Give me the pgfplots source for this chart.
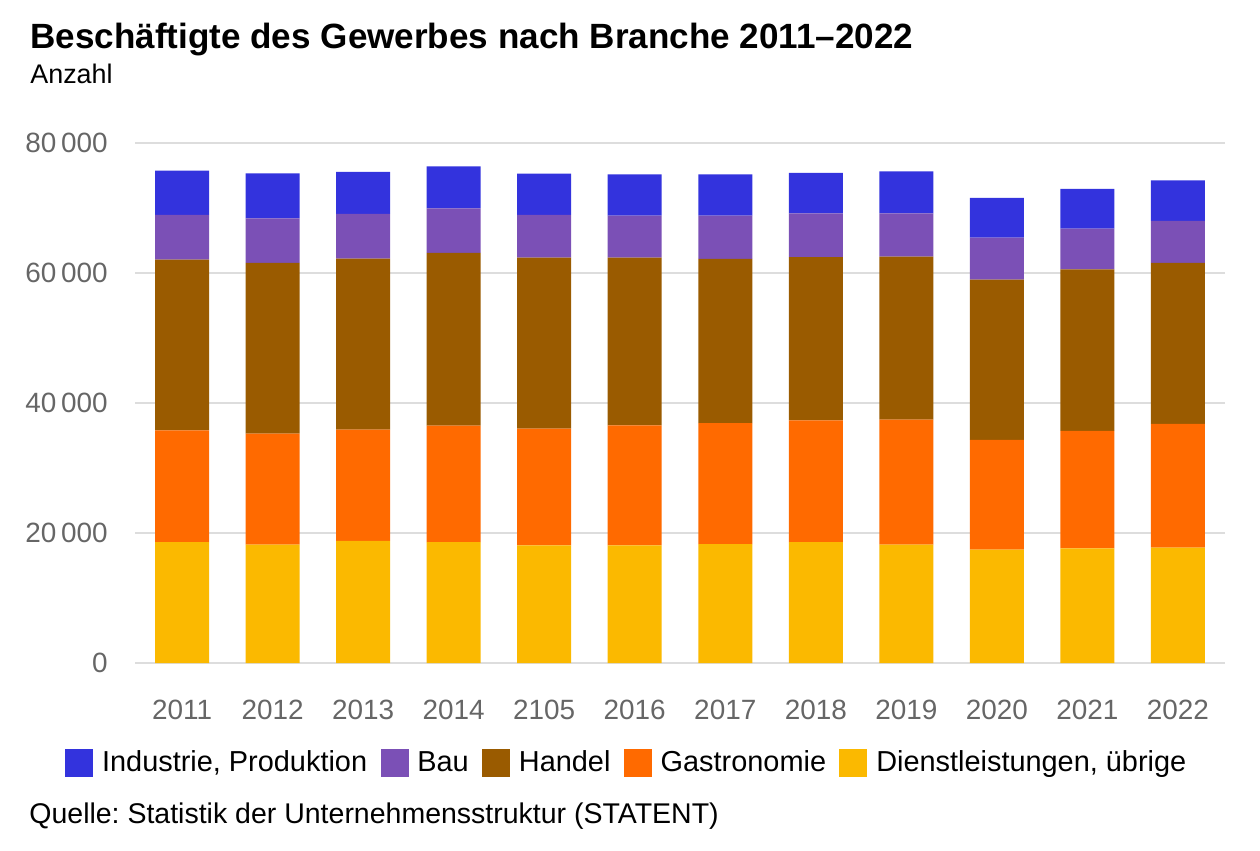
\documentclass[border=0pt]{standalone}
\usepackage{fontspec}
\setmainfont{Liberation Sans}
\usepackage{pgfplots}
\usepackage{pgfplotstable}
\pgfplotsset{compat=1.18}
\definecolor{cInd}{HTML}{3333DD}
\definecolor{cBau}{HTML}{7B50B6}
\definecolor{cHan}{HTML}{9A5B00}
\definecolor{cGas}{HTML}{FF6A00}
\definecolor{cDie}{HTML}{FBB900}
\definecolor{gridgray}{HTML}{DDDDDD}
\definecolor{tickgray}{HTML}{666666}
\pgfplotstableread{
x die gas han bau ind
0 18615 17170 26260 6880 6815
1 18200 17080 26260 6860 6925
2 18770 17120 26310 6880 6460
3 18615 17895 26570 6860 6460
4 18090 17960 26305 6570 6355
5 18090 18465 25800 6465 6350
6 18300 18590 25265 6665 6350
7 18615 18695 25150 6710 6215
8 18200 19260 25050 6660 6445
9 17430 16890 24650 6460 6110
10 17630 18080 24845 6260 6110
11 17740 19030 24770 6460 6250
}\datatable
\pgfplotsset{mysq/.style={legend image code/.code={\fill[##1] (0bp,-7bp) rectangle (14bp,7bp);}}}
\frenchspacing
\begin{document}
\begin{tikzpicture}
\path[use as bounding box] (0,0) rectangle (630bp,425.5bp);
\begin{axis}[
  at={(67.5bp,94bp)}, anchor=south west,
  scale only axis, width=545bp, height=260bp,
  ybar stacked, bar width=27bp,
  xmin=-0.52, xmax=11.52, ymin=0, ymax=80000,
  xtick=data,
  xticklabels={2011,2012,2013,2014,2105,2016,2017,2018,2019,2020,2021,2022},
  ytick={0,20000,40000,60000,80000},
  scaled y ticks=false,
  yticklabel style={/pgf/number format/1000 sep={\,}, /pgf/number format/assume math mode=true, anchor=east, inner sep=0pt, xshift=-13.5bp},
  xticklabel style={anchor=north, inner sep=0pt, yshift=-18.5bp},
  ticklabel style={font=\fontsize{14}{17}\selectfont, text=tickgray},
  ymajorgrids, grid style={draw=gridgray, line width=1bp},
  axis line style={draw=none}, major tick length=0pt, tick style={draw=none},
  clip=false,
  reverse legend,
  legend columns=5,
  legend style={draw=none, fill=none, at={(0.4523,-0.1923)}, anchor=center, inner sep=0pt,
    font=\fontsize{14.5}{17}\selectfont,
    nodes={inner sep=2.2bp},
    /tikz/every even column/.append style={column sep=4.5bp},
    /tikz/every odd column/.append style={column sep=2.2bp}},
]
\addplot[fill=cDie, draw=none, mysq] table[x=x, y=die] {\datatable};
\addplot[fill=cGas, draw=none, mysq] table[x=x, y=gas] {\datatable};
\addplot[fill=cHan, draw=none, mysq] table[x=x, y=han] {\datatable};
\addplot[fill=cBau, draw=none, mysq] table[x=x, y=bau] {\datatable};
\addplot[fill=cInd, draw=none, mysq] table[x=x, y=ind] {\datatable};
\legend{{Dienstleistungen, übrige}, Gastronomie, Handel, Bau, {Industrie, Produktion}}
\end{axis}
\node[anchor=base west, inner sep=0pt, font=\bfseries\fontsize{17.6}{20}\selectfont] at (15bp,401.3bp) {Beschäftigte des Gewerbes nach Branche 2011–2022};
\node[anchor=base west, inner sep=0pt, font=\fontsize{13.5}{16}\selectfont] at (15bp,383.5bp) {Anzahl};
\node[anchor=base west, inner sep=0pt, font=\fontsize{14.3}{17}\selectfont] at (14.5bp,14bp) {Quelle: Statistik der Unternehmensstruktur (STATENT)};
\end{tikzpicture}
\end{document}
